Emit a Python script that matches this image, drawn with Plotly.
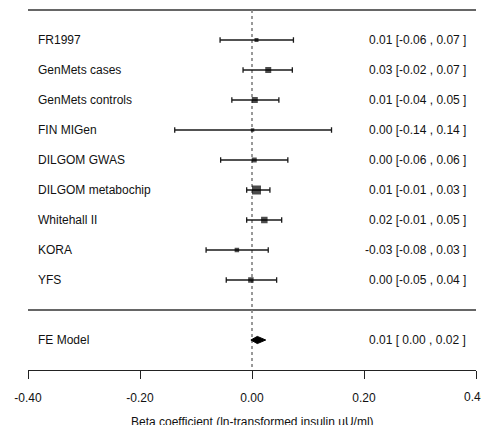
import plotly.graph_objects as go

studies = ["FR1997", "GenMets cases", "GenMets controls", "FIN MIGen", "DILGOM GWAS",
           "DILGOM metabochip", "Whitehall II", "KORA", "YFS"]
est = [0.008, 0.029, 0.005, 0.001, 0.004, 0.008, 0.022, -0.027, -0.002]
lo = [-0.057, -0.016, -0.036, -0.138, -0.056, -0.0095, -0.0095, -0.082, -0.046]
hi = [0.074, 0.072, 0.048, 0.142, 0.064, 0.032, 0.053, 0.029, 0.044]
weights = [4, 6, 6, 3.5, 5, 9, 6.5, 4.5, 5.5]  # relative weight -> square size

fe_label = "FE Model"
fe_est = 0.0095
fe_lo = -0.002
fe_hi = 0.0245

tick_vals = [-0.40, -0.20, 0.00, 0.20, 0.40]
tick_text = ["-0.40", "-0.20", "0.00", "0.20", "0.40"]
x_title = "Beta coefficient (ln-transformed insulin uU/ml)"


def fmt(e, l, h):
    def f(v):
        s = f"{v:.2f}"
        if s == "-0.00":
            s = "0.00"
        return s if s.startswith("-") else " " + s
    return f"{f(e).strip()} [{f(l)} ,{f(h)} ]"


k = len(studies)
rows = [k - i for i in range(k)]
fe_row = -1

fig = go.Figure()

# study estimates with CI
fig.add_trace(go.Scatter(
    x=est, y=rows, mode="markers",
    marker=dict(symbol="square", size=weights, color="black", line=dict(width=0)),
    error_x=dict(type="data", symmetric=False,
                 array=[h - e for h, e in zip(hi, est)],
                 arrayminus=[e - l for e, l in zip(est, lo)],
                 color="#1a1a1a", thickness=1.3, width=2.8),
    hoverinfo="skip", showlegend=False))

# FE diamond
dh = 0.12
fig.add_trace(go.Scatter(
    x=[fe_lo, fe_est, fe_hi, fe_est, fe_lo],
    y=[fe_row, fe_row + dh, fe_row, fe_row - dh, fe_row],
    mode="lines", fill="toself", fillcolor="black",
    line=dict(color="black", width=1), hoverinfo="skip", showlegend=False))

xl, xr = -0.4, 0.4
# horizontal lines
for yy in [k + 1, 0]:
    fig.add_shape(type="line", x0=xl, x1=xr, y0=yy, y1=yy,
                  line=dict(color="#333333", width=1.5), layer="below")
# reference line at 0
fig.add_shape(type="line", x0=0, x1=0, y0=k + 1, y1=-2,
              line=dict(color="#808080", width=1.6, dash="dot"), layer="below")

font = dict(family="Liberation Sans, Arial, sans-serif", size=12, color="#111111")
pad = 8 / 560
for name, r, e, l, h in zip(studies, rows, est, lo, hi):
    fig.add_annotation(x=xl + pad, y=r, text=name, showarrow=False,
                       xanchor="left", yanchor="middle", font=font)
    fig.add_annotation(x=xr - pad, y=r, text=fmt(e, l, h), showarrow=False,
                       xanchor="right", yanchor="middle", font=font)
fig.add_annotation(x=xl + pad, y=fe_row, text=fe_label, showarrow=False,
                   xanchor="left", yanchor="middle", font=font)
fig.add_annotation(x=xr - pad, y=fe_row, text=fmt(fe_est, fe_lo, fe_hi), showarrow=False,
                   xanchor="right", yanchor="middle", font=font)

# last tick label (plotly drops it because it overflows the page edge)
fig.add_annotation(x=tick_vals[-1], y=0, yref="paper", yshift=-27,
                   text=tick_text[-1], showarrow=False, xanchor="center",
                   yanchor="middle", font=font)

fig.add_annotation(x=0.5, xref="paper", y=0, yref="paper", yshift=-52,
                   text=x_title, showarrow=False, xanchor="center", yanchor="middle",
                   font=font)

fig.update_layout(
    width=481, height=425,
    margin=dict(l=28, r=5, t=0, b=55),
    paper_bgcolor="white", plot_bgcolor="white",
    xaxis=dict(range=[xl, xr], tickvals=tick_vals[:-1] + [tick_vals[-1]],
               ticktext=tick_text[:-1] + [""],
               showline=True, linecolor="#222222", linewidth=1.3,
               ticks="outside", ticklen=8, tickwidth=1.3, tickcolor="#222222",
               showgrid=False, zeroline=False, tickfont=font,
               ticklabelstandoff=8, fixedrange=True),
    yaxis=dict(range=[-2, k + 1 + 10 / 30], visible=False, showgrid=False,
               zeroline=False, fixedrange=True),
)

fig.write_html("out.html")
